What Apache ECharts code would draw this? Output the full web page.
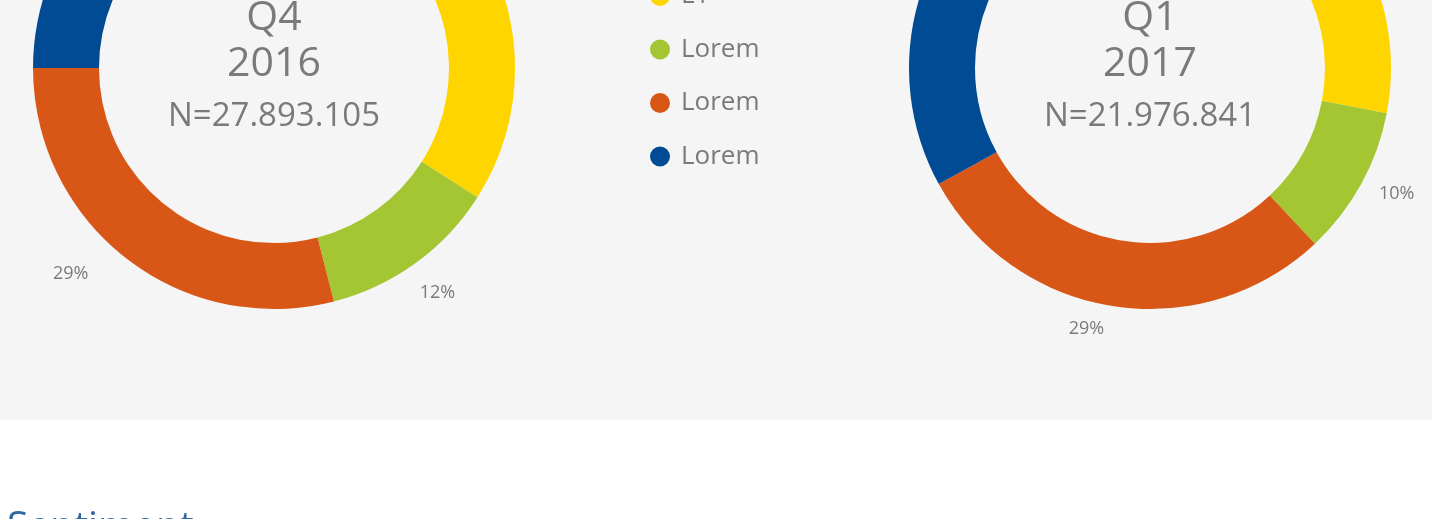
<!DOCTYPE html>
<html>
<head>
<meta charset="utf-8">
<script src="https://cdn.jsdelivr.net/npm/echarts@6/dist/echarts.min.js"></script>
<style>
html, body { margin: 0; padding: 0; background: #fff; }
#chart { width: 1432px; height: 519px; }
</style>
</head>
<body>
<div id="chart"></div>
<script>
const categories = ['L1', 'Lorem', 'Lorem', 'Lorem'];
const quarters = ['Q4', 'Q1'];
const years = ['2016', '2017'];
const totals = ['N=27.893.105', 'N=21.976.841'];
const shareQ4 = [34, 12, 29, 25];
const shareQ1 = [28, 10, 29, 33];
const sectionTitle = 'Sentiment';

const colors = ['#ffd500', '#a3c632', '#d95716', '#004b93'];
const grey = '#7a7a7a';
const font = '"Open Sans", sans-serif';
const centersX = [274, 1150];
const cy = 68;
// small hand nudges so the % labels sit where the original put them
const labelNudge = {'0-2': [-33, -14], '1-2': [-20, -14], '1-1': [3, -8]};

const chart = echarts.init(document.getElementById('chart'));

function pieData(values) {
    return values.map((v, i) => ({name: 'c' + i, value: v}));
}

function donut(values, cx) {
    return {
        type: 'pie',
        center: [cx, cy],
        radius: [175, 241],
        startAngle: 90,
        clockwise: true,
        avoidLabelOverlap: false,
        silent: true,
        animation: false,
        data: pieData(values),
        label: {
            position: 'outside',
            formatter: '{d}%',
            fontSize: 18,
            color: grey,
            fontFamily: font,
            distanceToLabelLine: 0
        },
        labelLine: {show: false, length: 37, length2: 0},
        labelLayout: p => {
            let n = labelNudge[p.seriesIndex + '-' + p.dataIndex] || [0, 0];
            return {align: 'center', verticalAlign: 'middle', dx: n[0], dy: n[1]};
        },
        itemStyle: {borderWidth: 0}
    };
}

// texts in the hole of each donut
let centerTexts = [];
centersX.forEach((cx, i) => {
    centerTexts.push(
        {type: 'text', x: cx, y: 18, z: 10, style: {text: quarters[i], font: '41px ' + font, fill: grey, align: 'center', verticalAlign: 'middle'}},
        {type: 'text', x: cx, y: 64, z: 10, style: {text: years[i], font: '41px ' + font, fill: grey, align: 'center', verticalAlign: 'middle'}},
        {type: 'text', x: cx, y: 117, z: 10, style: {text: totals[i], font: '33px ' + font, fill: grey, align: 'center', verticalAlign: 'middle'}}
    );
});

const option = {
    backgroundColor: '#ffffff',
    color: colors,
    animation: false,
    legend: {
        orient: 'vertical',
        left: 645,
        top: -22,
        icon: 'circle',
        itemWidth: 20,
        itemHeight: 20,
        itemGap: 27.5,
        selectedMode: false,
        data: categories.map((c, i) => 'c' + i),
        formatter: name => categories[+name.slice(1)],
        textStyle: {fontSize: 26, color: grey, fontFamily: font, padding: [0, 0, 0, 6], lineHeight: 20}
    },
    graphic: [
        {type: 'rect', z: -10, shape: {x: 0, y: 0, width: 1432, height: 420}, style: {fill: '#f5f5f5'}},
        ...centerTexts,
        {type: 'text', x: 7, y: 528, z: 10, style: {text: sectionTitle, font: '39px ' + font, fill: '#2f67a3', align: 'left', verticalAlign: 'middle'}}
    ],
    series: [donut(shareQ4, centersX[0]), donut(shareQ1, centersX[1])]
};

chart.setOption(option);
</script>
</body>
</html>
